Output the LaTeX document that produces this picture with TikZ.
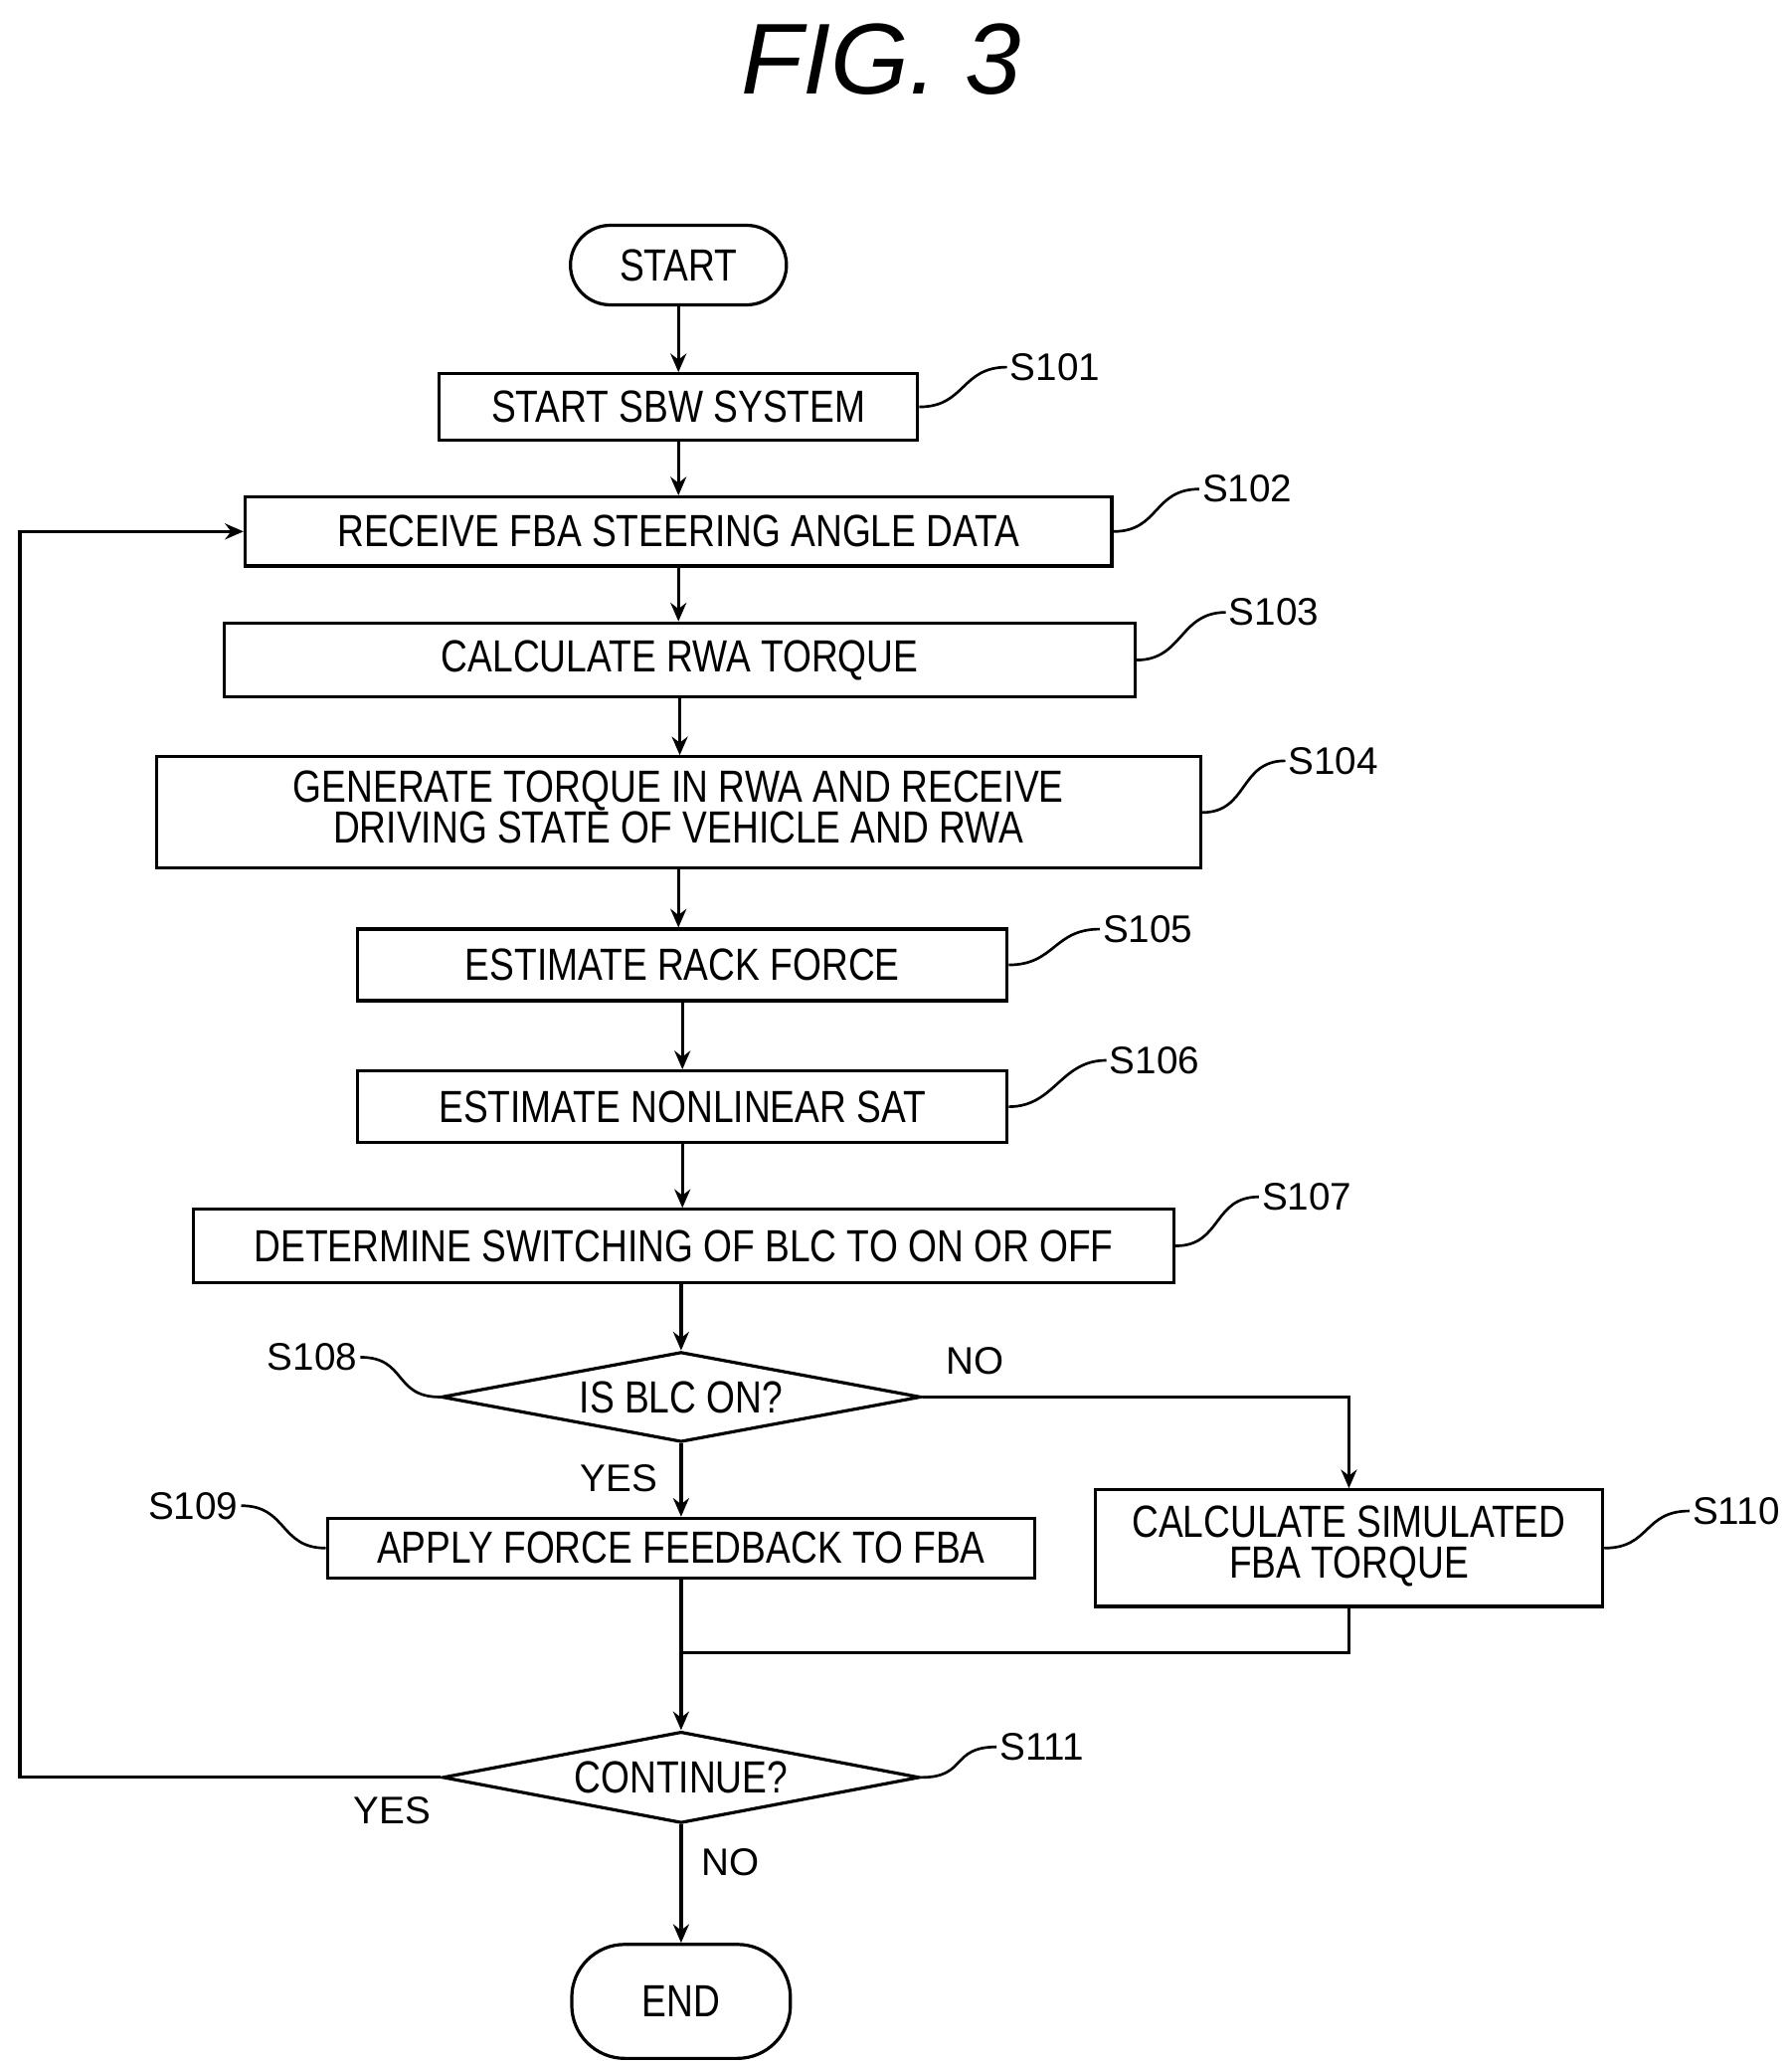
\documentclass[tikz,border=0pt]{standalone}
\usepackage{fontspec}
\setmainfont{Liberation Sans}
\usetikzlibrary{shapes.geometric,arrows.meta}
\newcommand{\NT}[1]{\scalebox{0.82}[1]{#1}}
\begin{document}
\begin{tikzpicture}[x=0.5pt,y=-0.5pt,
  box/.style={draw,line width=1.2pt,inner sep=0pt,font=\fontsize{17}{15}\selectfont,align=center},
  dia/.style={draw,line width=1.2pt,diamond,inner sep=0pt,font=\fontsize{17}{15}\selectfont},
  term/.style={draw,line width=1.2pt,rounded corners=14pt,inner sep=0pt,font=\fontsize{17}{15}\selectfont},
  lab/.style={font=\fontsize{14.5}{15}\selectfont,inner sep=1pt},
  ln/.style={line width=1.2pt},
  ar/.style={ln,-{Stealth[length=7pt,width=6pt]}}]
\useasboundingbox (0,0) rectangle (1352,1558);
\node[font=\itshape\fontsize{38}{40}\selectfont] (title) at (665,45) {FIG. 3};
\node[term,minimum width=81.5pt,minimum height=30pt,rounded corners=15pt] (st) at (512,200) {\NT{START}};
\node[box,minimum width=180.5pt,minimum height=25pt] (s1) at (512,307) {\NT{START SBW SYSTEM}};
\node[box,minimum width=327pt,minimum height=26pt] (s2) at (512,401) {\NT{RECEIVE FBA STEERING ANGLE DATA}};
\node[box,minimum width=343.5pt,minimum height=28pt] (s3) at (513,498) {\NT{CALCULATE RWA TORQUE}};
\node[box,minimum width=394pt,minimum height=42pt] (s4) at (512,613) {\NT{\begin{tabular}{@{}c@{}}GENERATE TORQUE IN RWA AND RECEIVE\\[-1pt]DRIVING STATE OF VEHICLE AND RWA\end{tabular}}};
\node[box,minimum width=245pt,minimum height=27pt] (s5) at (515,728) {\NT{ESTIMATE RACK FORCE}};
\node[box,minimum width=245pt,minimum height=27pt] (s6) at (515,835) {\NT{ESTIMATE NONLINEAR SAT}};
\node[box,minimum width=370pt,minimum height=27.5pt] (s7) at (516,940) {\NT{DETERMINE SWITCHING OF BLC TO ON OR OFF}};
\node[dia,minimum width=181pt,minimum height=34pt,aspect=5.3] (s8) at (514,1054) {\NT{IS BLC ON?}};
\node[box,minimum width=267pt,minimum height=22.5pt] (s9) at (514,1168) {\NT{APPLY FORCE FEEDBACK TO FBA}};
\node[box,minimum width=191.5pt,minimum height=44pt] (s10) at (1018,1168) {\NT{\begin{tabular}{@{}c@{}}CALCULATE SIMULATED\\[-1pt]FBA TORQUE\end{tabular}}};
\node[dia,minimum width=180pt,minimum height=34.5pt,aspect=5.2] (s11) at (514,1341) {\NT{CONTINUE?}};
\node[term,minimum width=82.5pt,minimum height=43pt,rounded corners=20pt] (en) at (514,1510) {\NT{END}};
\coordinate (j) at (514,1247);
\coordinate (lb) at (15,1341);
\coordinate (lt) at (15,401);
\draw[ar] (st) -- (s1);
\draw[ar] (s1) -- (s1 |- s2.north);
\draw[ar] (s2) -- (s2 |- s3.north);
\draw[ar] (s3) -- (s3 |- s4.north);
\draw[ar] (s4) -- (s4 |- s5.north);
\draw[ar] (s5.south -| s6) -- (s6);
\draw[ar] (s6) -- (s6 |- s7.north);
\draw[ar] (s7.south -| s8) -- (s8);
\draw[ar] (s8) -- (s9);
\draw[ar] (s8.east) -| (s10.north);
\draw[ln] (s10.south) |- (j);
\draw[ar] (s9) -- (s11);
\draw[ar] (s11) -- (en);
\draw[ar] (s11.west) -- (lb) -- (lt) -- (s2.west);
\foreach \n/\x/\y/\t in {s1/760/277/S101, s2/905/369/S102, s3/925/462/S103, s4/970/574/S104, s5/830/701/S105, s6/835/800/S106, s7/950/903/S107, s10/1275/1140/S110, s11/752/1318/S111}{
  \coordinate (c\n) at (\x,\y);
  \draw[ln,line width=1pt] (\n.east) .. controls +(35,0) and +(-35,0) .. (c\n);
  \node[lab,anchor=west] at (c\n) {\t};
}
\foreach \n/\x/\y/\t in {s8/272/1024/S108, s9/182/1136/S109}{
  \coordinate (c\n) at (\x,\y);
  \draw[ln,line width=1pt] (c\n) .. controls +(35,0) and +(-35,0) .. (\n.west);
  \node[lab,anchor=east] at (c\n) {\t};
}
\node[lab] (no1) at (736,1027) {NO};
\node[lab] (yes1) at (467,1115) {YES};
\node[lab] (yes2) at (296,1366) {YES};
\node[lab] (no2) at (551,1405) {NO};
\end{tikzpicture}
\end{document}
